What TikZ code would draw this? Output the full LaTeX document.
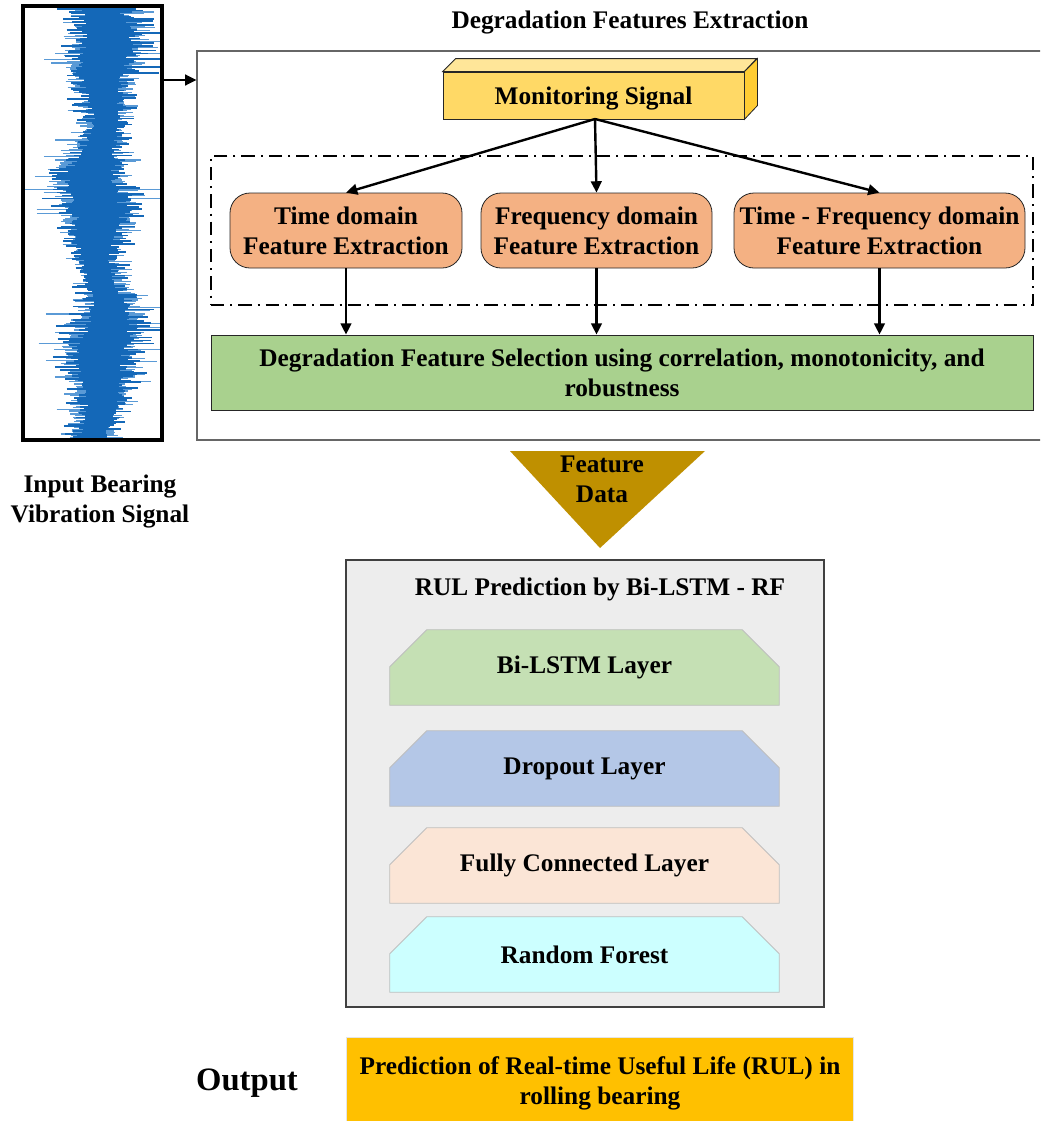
\documentclass[tikz,border=0pt]{standalone}
\usepackage{fontspec}
\setmainfont{Liberation Serif}
\usetikzlibrary{arrows.meta,fit,calc}
\definecolor{sigdark}{HTML}{1468B8}
\definecolor{siglight}{HTML}{5A9AD6}
\definecolor{ornbox}{HTML}{F4B183}
\definecolor{grnbox}{HTML}{A9D18E}
\definecolor{ylwfront}{HTML}{FFD966}
\definecolor{ylwtop}{HTML}{FFE699}
\definecolor{ylwside}{HTML}{FFCC33}
\definecolor{trifill}{HTML}{BF9000}
\definecolor{rulbg}{HTML}{EDEDED}
\definecolor{layA}{HTML}{C5E0B4}
\definecolor{layB}{HTML}{B4C7E7}
\definecolor{layC}{HTML}{FBE5D6}
\definecolor{layD}{HTML}{CCFFFF}
\definecolor{outfill}{HTML}{FFC000}
\begin{document}
\begin{tikzpicture}[x=0.75pt,y=-0.75pt,
  every node/.style={font=\fontsize{19}{22.5}\selectfont\bfseries, align=center, inner sep=0pt},
  arr/.style={line width=1.8pt, -{Triangle[length=8.5pt,width=8pt]}},
  fitbox/.style={inner sep=0pt},
  roundbox/.style={fitbox, draw=black!85, line width=0.6pt, fill=ornbox, rounded corners=15pt},
  layerline/.style={draw=black!25, line width=0.6pt},
]
\clip (0,0) rectangle (1040,1121);
\fill[white] (0,0) rectangle (1040,1121);

% ---------------- input signal ----------------
\pgfmathsetseed{11}
\begin{scope}
\clip (24,7) rectangle (161,439);
\foreach \i in {0,...,280}{
  \pgfmathsetmacro{\yy}{9+\i*1.54}
  \pgfmathsetmacro{\cc}{100+6*sin(\i*2.3)+4*sin(\i*6.1)}
  \pgfmathsetmacro{\am}{1+0.3*sin(\i*3.7)}
  \pgfmathsetmacro{\wl}{\am*(24+50*rnd*rnd*rnd)}
  \pgfmathsetmacro{\wr}{\am*(24+52*rnd*rnd*rnd)}
  \draw[siglight, line width=0.9pt] (\cc-\wl,\yy) -- (\cc+\wr,\yy);
}
\foreach \i in {0,...,290}{
  \pgfmathsetmacro{\yy}{9+\i*1.48}
  \pgfmathsetmacro{\cc}{100+6*sin(\i*2.1)+4*sin(\i*5.7)}
  \pgfmathsetmacro{\am}{1+0.3*sin(\i*3.5)}
  \pgfmathsetmacro{\wl}{\am*(16+34*rnd*rnd)}
  \pgfmathsetmacro{\wr}{\am*(16+34*rnd*rnd)}
  \draw[sigdark, line width=1.3pt] (\cc-\wl,\yy) -- (\cc+\wr,\yy);
}
\end{scope}
\node[fitbox, draw=black, line width=2.4pt, fit={(23,6)(162,440)}] (sig) {};
\node at (100,501) (sigcap) {Input Bearing\\Vibration Signal};

% ---------------- extraction block ----------------
\node[fitbox, draw=black!60, line width=0.8pt, fit={(197,51)(1050,440)}] (ext) {};
\node at (630,23) (exttitle) {Degradation Features Extraction};
\coordinate (a1) at (162,80);
\draw[arr] (a1) -- (a1 -| ext.west);

% monitoring signal (3D box)
\node[fitbox, draw=black!85, line width=0.6pt, fill=ylwfront, fit={(443,72)(744,119)}] (ms) {};
\node at ([yshift=-2pt]ms.center) {Monitoring Signal};
\filldraw[fill=ylwtop, draw=black!85, line width=0.6pt] (ms.north west) -- ++(13,-13) -- ++(301,0) -- (ms.north east) -- cycle;
\filldraw[fill=ylwside, draw=black!85, line width=0.6pt] (ms.north east) -- ++(13,-13) -- ++(0,47) -- (ms.south east) -- cycle;

% dash-dot group
\node[fitbox, draw=black, line width=1.4pt, dash pattern=on 10pt off 4.5pt on 1.5pt off 4.5pt, fit={(211,156)(1033,305)}] (grp) {};

\node[roundbox, fit={(230,193)(462,268)}] (td) {};
\node at (td.center) {Time domain\\Feature Extraction};
\node[roundbox, fit={(481,193)(712,268)}] (fd) {};
\node at (fd.center) {Frequency domain\\Feature Extraction};
\node[roundbox, fit={(734,193)(1025,268)}] (tfd) {};
\node at (tfd.center) {Time - Frequency domain\\Feature Extraction};

\node[fitbox, draw=black!85, line width=0.6pt, fill=grnbox, fit={(211,335)(1033,410)}] (sel) {};
\node at (sel.center) {Degradation Feature Selection using correlation, monotonicity, and\\robustness};

\coordinate (msb) at (595,119);
\draw[arr] (msb) -- (td.north);
\draw[arr] (msb) -- (fd.north);
\draw[arr] (msb) -- (tfd.north);
\draw[arr] (td.south) -- (td.south |- sel.north);
\draw[arr] (fd.south) -- (fd.south |- sel.north);
\draw[arr] (tfd.south) -- (tfd.south |- sel.north);

% ---------------- feature data triangle ----------------
\coordinate (t1) at (510,451);
\coordinate (t2) at (705,451);
\coordinate (t3) at (600,548);
\fill[trifill] (t1) -- (t2) -- (t3) -- cycle;
\node at (602,479) (fdata) {Feature\\Data};

% ---------------- RUL block ----------------
\node[fitbox, draw=black!75, line width=0.8pt, fill=rulbg, fit={(346,560)(824,1007)}] (rul) {};
\node at (600,589) (rultitle) {RUL Prediction by Bi-LSTM - RF};

\foreach \nm/\ya/\yb/\col/\txt in {
  l1/630/705/layA/{Bi-LSTM Layer},
  l2/731/806/layB/{Dropout Layer},
  l3/828/903/layC/{Fully Connected Layer},
  l4/917/992/layD/{Random Forest}}{
  \node[fitbox, fit={(390,\ya)(779,\yb)}] (\nm) {};
  \filldraw[fill=\col, layerline] (\nm.south west) -- ($(\nm.north west)+(0,37)$) -- ($(\nm.north west)+(37,0)$)
     -- ($(\nm.north east)+(-37,0)$) -- ($(\nm.north east)+(0,37)$) -- (\nm.south east) -- cycle;
  \node at (\nm.center) {\txt};
}

% ---------------- output ----------------
\node[font=\fontsize{24.5}{28}\selectfont\bfseries] at (247,1083) (outlbl) {Output};
\node[fitbox, fill=outfill, draw=black!10, line width=0.5pt, fit={(346,1037)(853,1125)}] (out) {};
\node at (600,1083) (outtxt) {Prediction of Real-time Useful Life (RUL) in\\rolling bearing};
\end{tikzpicture}
\end{document}
